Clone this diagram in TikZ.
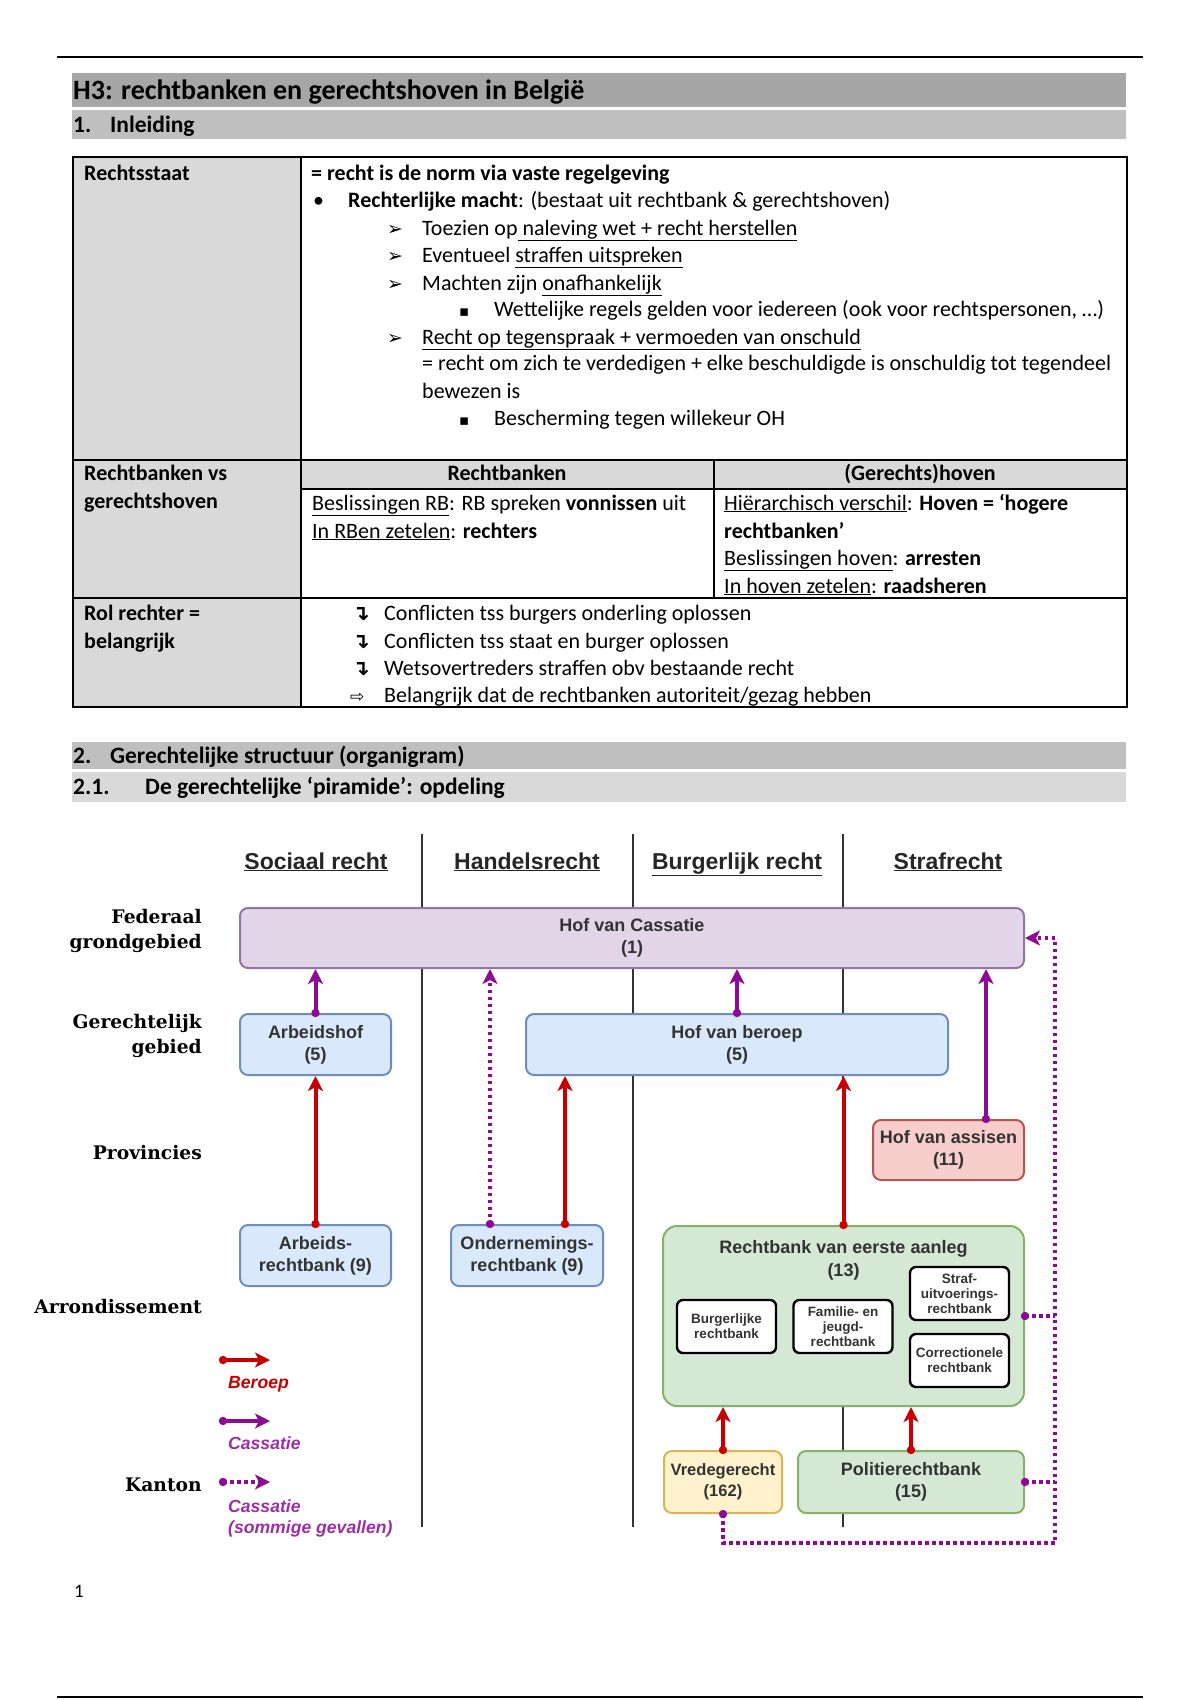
\documentclass[tikz,border=0pt]{standalone}
\usepackage{fontspec}
\setmainfont{Carlito}
\newfontfamily\arialf{Liberation Sans}
\newfontfamily\slabf{DejaVu Serif}
\newfontfamily\dvsf{DejaVu Sans}
\usetikzlibrary{arrows.meta,calc}
\definecolor{purp}{RGB}{140,10,150}
\definecolor{redar}{RGB}{200,0,0}
\definecolor{band1}{HTML}{A6A6A6}
\definecolor{band2}{HTML}{BFBFBF}
\definecolor{band3}{HTML}{D9D9D9}
\definecolor{cellgray}{HTML}{D9D9D9}
\definecolor{casfill}{HTML}{E1D5E7}\definecolor{casdraw}{HTML}{9673A6}
\definecolor{bluefill}{HTML}{DAE8FC}\definecolor{bluedraw}{HTML}{6C8EBF}
\definecolor{redfill}{HTML}{F8CECC}\definecolor{reddraw}{HTML}{B85450}
\definecolor{grnfill}{HTML}{D5E8D4}\definecolor{grndraw}{HTML}{82B366}
\definecolor{yelfill}{HTML}{FFF2CC}\definecolor{yeldraw}{HTML}{D6B656}
\newcommand\myul[1]{\underline{#1}}
\tikzset{
 tx/.style={anchor=base west, inner sep=0pt, font=\fontsize{22}{26}\selectfont},
 txb/.style={anchor=base west, inner sep=0pt, font=\bfseries\fontsize{22}{26}\selectfont},
 txc/.style={anchor=base, inner sep=0pt, font=\bfseries\fontsize{22}{26}\selectfont},
 sym/.style={anchor=base west, inner sep=0pt, font=\dvsf\fontsize{19}{22}\selectfont},
 sqb/.style={anchor=base west, inner sep=0pt, font=\dvsf\fontsize{15}{18}\selectfont},
 hook/.style={anchor=base west, inner sep=0pt, font=\dvsf\bfseries\fontsize{21}{22}\selectfont},
 hd/.style={anchor=base west, inner sep=0pt, font=\bfseries\fontsize{23.5}{28}\selectfont},
 rowlab/.style={anchor=east, align=right, inner sep=0pt, font=\slabf\bfseries\fontsize{18.7}{25}\selectfont},
 colhead/.style={anchor=base, inner sep=0pt, font=\arialf\bfseries\fontsize{23}{27}\selectfont, text=black!85},
 box/.style={rounded corners=8pt, line width=2pt, align=center, inner sep=0pt, font=\arialf\bfseries\fontsize{18}{22}\selectfont, text=black!80},
 inbox/.style={rounded corners=6pt, line width=2.4pt, draw=black, fill=white, align=center, inner sep=0pt, font=\arialf\bfseries\fontsize{13.5}{15}\selectfont, text=black!80},
 ber/.style={draw=redar, line width=4pt, -{Stealth[length=15pt,width=15pt,inset=4pt]}},
 cas/.style={draw=purp, line width=4pt, -{Stealth[length=15pt,width=15pt,inset=4pt]}},
 casdot/.style={draw=purp, line width=3.5pt, dash pattern=on 3.5pt off 3.5pt, -{Stealth[length=15pt,width=15pt,inset=4pt]}},
 casline/.style={draw=purp, line width=3.5pt, dash pattern=on 3.5pt off 3.5pt},
 sep/.style={draw=black!80, line width=2pt},
 leg/.style={anchor=west, inner sep=0pt, align=left, font=\arialf\bfseries\itshape\fontsize{17.6}{21}\selectfont}
}
\newcommand\rdot[1]{\fill[redar] #1 circle (4.2pt);}
\newcommand\pdot[1]{\fill[purp] #1 circle (4.2pt);}
\begin{document}
\begin{tikzpicture}[x=1pt,y=-1pt]
\useasboundingbox (0,0) rectangle (1200,1700);
\fill[white] (0,0) rectangle (1200,1700);
% page rules
\draw[line width=1.6pt] (57,57) -- (1143,57);
\draw[line width=1.6pt] (57,1697) -- (1143,1697);
% headers
\fill[band1] (72,73) rectangle (1126,107);
\node[hd, font=\bfseries\fontsize{28}{30}\selectfont] (h3) at (73,99) {H3: rechtbanken en gerechtshoven in België};
\fill[band2] (72,110) rectangle (1126,139);
\node[hd] (s1n) at (73,132) {1.};
\node[hd] (s1) at (110,132) {Inleiding};
% table
\fill[cellgray] (73,157) rectangle (301,707);
\fill[cellgray] (301,460) rectangle (1127,489);
\draw[line width=1.6pt] (73,157) rectangle (1127,707);
\draw[line width=1.6pt] (301,157) -- (301,707);
\draw[line width=1.6pt] (73,460) -- (1127,460);
\draw[line width=1.2pt] (301,489) -- (1127,489);
\draw[line width=1.2pt] (714,460) -- (714,598);
\draw[line width=1.6pt] (73,598) -- (1127,598);
% row 1
\node[txb] (l1) at (84,180) {Rechtsstaat};
\node[txb] (r1) at (311,180) {= recht is de norm via vaste regelgeving};
\node[tx] (b2) at (313,207) {•};
\node[tx] (r2) at (348,207) {\textbf{Rechterlijke macht}: (bestaat uit rechtbank \& gerechtshoven)};
\node[sym] (a3) at (387,235) {➢};
\node[tx] (r3) at (422,235) {Toezien op\myul{ naleving wet + recht herstellen}};
\node[sym] (a4) at (387,262) {➢};
\node[tx] (r4) at (422,262) {Eventueel \myul{straffen uitspreken}};
\node[sym] (a5) at (387,290) {➢};
\node[tx] (r5) at (422,290) {Machten zijn \myul{onafhankelijk}};
\node[sqb] (b6) at (459,316) {▪};
\node[tx] (r6) at (494,316) {Wettelijke regels gelden voor iedereen (ook voor rechtspersonen, …)};
\node[sym] (a7) at (387,344) {➢};
\node[tx] (r7) at (422,344) {\myul{Recht op tegenspraak + vermoeden van onschuld}};
\node[tx] (r8) at (422,370) {= recht om zich te verdedigen + elke beschuldigde is onschuldig tot tegendeel};
\node[tx] (r9) at (422,398) {bewezen is};
\node[sqb] (b10) at (459,425) {▪};
\node[tx] (r10) at (494,425) {Bescherming tegen willekeur OH};
% row 2
\node[txb] (l2a) at (84,480) {Rechtbanken vs};
\node[txb] (l2b) at (84,508) {gerechtshoven};
\node[txc] (h2a) at (507,480) {Rechtbanken};
\node[txc] (h2b) at (920,480) {(Gerechts)hoven};
\node[tx] (c1a) at (312,510) {\myul{Beslissingen RB}: RB spreken \textbf{vonnissen} uit};
\node[tx] (c1b) at (312,538) {\myul{In RBen zetelen}: \textbf{rechters}};
\node[tx] (c2a) at (724,510) {\myul{Hiërarchisch verschil}: \textbf{Hoven = ‘hogere}};
\node[tx] (c2b) at (724,538) {\textbf{rechtbanken’}};
\node[tx] (c2c) at (724,565) {\myul{Beslissingen hoven}: \textbf{arresten}};
\node[tx] (c2d) at (724,593) {\myul{In hoven zetelen}: \textbf{raadsheren}};
% row 3
\node[txb] (l3a) at (84,620) {Rol rechter =};
\node[txb] (l3b) at (84,648) {belangrijk};
\node[hook] (i1) at (352,620) {↴};
\node[tx] (t1) at (384,620) {Conflicten tss burgers onderling oplossen};
\node[hook] (i2) at (352,648) {↴};
\node[tx] (t2) at (384,648) {Conflicten tss staat en burger oplossen};
\node[hook] (i3) at (352,675) {↴};
\node[tx] (t3) at (384,675) {Wetsovertreders straffen obv bestaande recht};
\node[sym, font=\dvsf\fontsize{17}{20}\selectfont] (i4) at (350,702) {⇨};
\node[tx] (t4) at (384,702) {Belangrijk dat de rechtbanken autoriteit/gezag hebben};
% section 2
\fill[band2] (72,742) rectangle (1126,769);
\node[hd] (s2n) at (73,763) {2.};
\node[hd] (s2) at (110,763) {Gerechtelijke structuur (organigram)};
\fill[band3] (72,772) rectangle (1126,802);
\node[hd] (s21n) at (73,794) {2.1.};
\node[hd] (s21) at (145,794) {De gerechtelijke ‘piramide’: opdeling};
% diagram separators
\draw[sep] (422,834) -- (422,1527);
\draw[sep] (633,834) -- (633,1527);
\draw[sep] (843,834) -- (843,1527);
% column headers
\node[colhead] (ch1) at (316,869) {\myul{Sociaal recht}};
\node[colhead] (ch2) at (527,869) {\myul{Handelsrecht}};
\node[colhead] (ch3) at (737,869) {\myul{Burgerlijk recht}};
\node[colhead] (ch4) at (948,869) {\myul{Strafrecht}};
% row labels
\node[rowlab] (rl1) at (202,931) {Federaal\\grondgebied};
\node[rowlab] (rl2) at (202,1036) {Gerechtelijk\\gebied};
\node[rowlab] (rl3) at (202,1153) {Provincies};
\node[rowlab] (rl4) at (202,1307) {Arrondissement};
\node[rowlab] (rl5) at (202,1485) {Kanton};
% boxes
\node[box, fill=casfill, draw=casdraw, minimum width=784, minimum height=60] (cass) at (632,938) {Hof van Cassatie\\(1)};
\node[box, fill=bluefill, draw=bluedraw, minimum width=151, minimum height=61] (arbh) at (315.5,1044.5) {Arbeidshof\\(5)};
\node[box, fill=bluefill, draw=bluedraw, minimum width=422, minimum height=61] (hvb) at (737,1044.5) {Hof van beroep\\(5)};
\node[box, fill=redfill, draw=reddraw, minimum width=151, minimum height=60] (assi) at (948.5,1150) {Hof van assisen\\(11)};
\node[box, fill=bluefill, draw=bluedraw, minimum width=151, minimum height=61] (arbr) at (315.5,1255.5) {Arbeids-\\rechtbank (9)};
\node[box, fill=bluefill, draw=bluedraw, minimum width=152, minimum height=61] (ond) at (527,1255.5) {Ondernemings-\\rechtbank (9)};
\node[box, fill=grnfill, draw=grndraw, minimum width=361, minimum height=180, rounded corners=14pt] (rvea) at (843.5,1316) {};
\node[inner sep=0pt, align=center, font=\arialf\bfseries\fontsize{18}{23}\selectfont, text=black!80] (rveat) at (843.5,1260) {Rechtbank van eerste aanleg\\(13)};
\node[inbox, minimum width=99, minimum height=53] (burg) at (726.5,1326.5) {Burgerlijke\\rechtbank};
\node[inbox, minimum width=99, minimum height=53] (fam) at (843,1326.5) {Familie- en\\jeugd-\\rechtbank};
\node[inbox, minimum width=99, minimum height=53] (straf) at (959.5,1293.5) {Straf-\\uitvoerings-\\rechtbank};
\node[inbox, minimum width=99, minimum height=53] (corr) at (959.5,1360.5) {Correctionele\\rechtbank};
\node[box, fill=yelfill, draw=yeldraw, minimum width=118, minimum height=62, font=\arialf\bfseries\fontsize{16.5}{21}\selectfont] (vred) at (723,1482) {Vredegerecht\\(162)};
\node[box, fill=grnfill, draw=grndraw, minimum width=226, minimum height=62] (pol) at (911,1482) {Politierechtbank\\(15)};
% cassatie arrows
\draw[cas] (arbh.north) -- (arbh.north |- cass.south);
\pdot{(arbh.north)}
\draw[cas] (hvb.north) -- (hvb.north |- cass.south);
\pdot{(hvb.north)}
\draw[cas] ([xshift=37.5pt]assi.north) -- ([xshift=37.5pt]assi.north |- cass.south);
\pdot{([xshift=37.5pt]assi.north)}
\draw[casdot] ([xshift=-37pt]ond.north) -- ([xshift=-37pt]ond.north |- cass.south);
\pdot{([xshift=-37pt]ond.north)}
% beroep arrows
\draw[ber] (arbr.north) -- (arbr.north |- arbh.south);
\rdot{(arbr.north)}
\draw[ber] ([xshift=38pt]ond.north) -- ([xshift=38pt]ond.north |- hvb.south);
\rdot{([xshift=38pt]ond.north)}
\draw[ber] (rvea.north) -- (rvea.north |- hvb.south);
\rdot{(rvea.north)}
\draw[ber] (vred.north) -- (vred.north |- rvea.south);
\rdot{(vred.north)}
\draw[ber] (pol.north) -- (pol.north |- rvea.south);
\rdot{(pol.north)}
% dotted cassatie loop
\coordinate (dr) at (1055,1543);
\coordinate (dt) at (1055,938);
\draw[casdot] (vred.south) -- (vred.south |- dr) -- (dr) -- (dt) -- (cass.east);
\pdot{(vred.south)}
\draw[casline] (rvea.east) -- (rvea.east -| dr);
\pdot{(rvea.east)}
\draw[casline] (pol.east) -- (pol.east -| dr);
\pdot{(pol.east)}
% legend
\coordinate (lg1a) at (223,1360); \coordinate (lg1b) at (270,1360);
\coordinate (lg2a) at (223,1421); \coordinate (lg2b) at (270,1421);
\coordinate (lg3a) at (223,1482); \coordinate (lg3b) at (270,1482);
\draw[ber] (lg1a) -- (lg1b);
\rdot{(lg1a)}
\draw[cas] (lg2a) -- (lg2b);
\pdot{(lg2a)}
\draw[casdot] (lg3a) -- (lg3b);
\pdot{(lg3a)}
\node[leg, text=redar] (lgt1) at (228,1384) {Beroep};
\node[leg, text=purp!85] (lgt2) at (228,1443) {Cassatie};
\node[leg, text=purp!85] (lgt3) at (228,1518) {Cassatie\\(sommige gevallen)};
% page number
\node[tx, font=\fontsize{19}{22}\selectfont] (pn) at (74,1597) {1};
\end{tikzpicture}
\end{document}
